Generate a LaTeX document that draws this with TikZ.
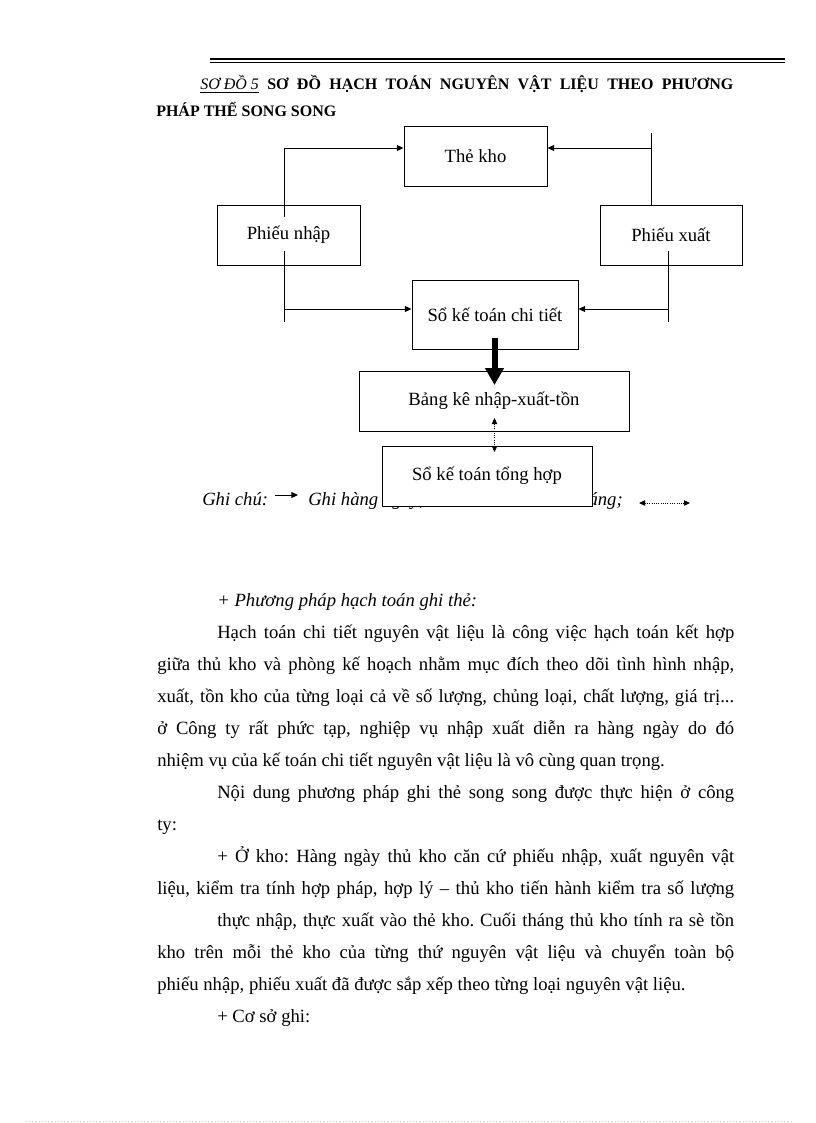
\documentclass[tikz,border=0pt]{standalone}
\usepackage{fontspec}
\setmainfont{Liberation Serif}
\usetikzlibrary{arrows.meta,positioning,backgrounds,calc}
\frenchspacing

\newcommand{\bodysize}{\fontsize{14pt}{16pt}\selectfont}
\newcommand{\boxsize}{\fontsize{14pt}{16pt}\selectfont}
\newcommand{\titlesize}{\fontsize{12pt}{14pt}\selectfont}
\newcommand{\jline}[2]{\makebox[#1][s]{#2}}

\tikzset{
  box/.style={draw, fill=white, line width=0.7pt, font=\boxsize, inner sep=2pt},
  txt/.style={anchor=base west, inner sep=0pt, font=\bodysize},
  wire/.style={line width=0.7pt},
  flow/.style={wire, ->},
  dotflow/.style={<->, densely dotted, line width=0.7pt, >={Triangle[length=4.5pt,width=4pt]}},
  bigflow/.style={-{Triangle[length=12.75pt,width=13.5pt]}, line width=4.5pt},
}

\begin{document}
\begin{tikzpicture}[x=0.75pt,y=-0.75pt,>={Triangle[length=5pt,width=4.5pt]}]
  \useasboundingbox (0,0) rectangle (816,1123);

  % header rule and title
  \draw [line width=1.5pt] (210,59) -- (785,59);
  \draw [line width=0.5pt] (210,62.5) -- (785,62.5);
  \node (title1) [txt,font=\titlesize\bfseries] at (200,90)
    {\jline{399.75pt}{\underline{\mdseries\itshape SƠ ĐỒ 5} SƠ ĐỒ HẠCH TOÁN NGUYÊN VẬT LIỆU THEO PHƯƠNG}};
  \node (title2) [txt,font=\titlesize\bfseries] at (156,117) {PHÁP THỂ SONG SONG};

  % boxes
  \node (thekho) [box,minimum width=107.25pt,minimum height=45pt] at (475.5,156) {\raisebox{-1.5pt}{Thẻ kho}};
  \node (pnhap)  [box,minimum width=107.25pt,minimum height=45pt] at (288.5,235) {\raisebox{3.5pt}{Phiếu nhập}};
  \node (pxuat)  [box,minimum width=106.5pt,minimum height=45pt] at (671,235) {\raisebox{-2pt}{Phiếu xuất}};
  \node (soct)   [box,minimum width=124.5pt,minimum height=51.75pt] at (495,314.5) {Sổ kế toán chi tiết};
  \node (bangke) [box,minimum width=202.5pt,minimum height=45pt] at (494,401) {\raisebox{-2.5pt}{Bảng kê nhập-xuất-tồn}};
  \node (sotong) [box,minimum width=157.5pt,minimum height=45pt] at (487,476) {\raisebox{-2.5pt}{Sổ kế toán tổng hợp}};

  % legend, partly hidden by the last box
  \begin{scope}[on background layer]
    \node (key)     [txt,font=\bodysize\itshape] at (202,505) {Ghi chú:};
    \node (daily)   [txt,font=\bodysize\itshape] at (308,505) {Ghi hàng ngày;};
    \node (monthly) [txt,font=\bodysize\itshape,anchor=base east] at (623,505) {Ghi cuối tháng;};
  \end{scope}
  \coordinate (key-a) at (275,495);
  \coordinate (key-b) at (298,495);
  \coordinate (key-c) at (639,503);
  \coordinate (key-d) at (690,503);
  \draw [flow] (key-a) -- (key-b);
  \draw [dotflow] (key-c) -- (key-d);

  % Phieu nhap -> The kho, So chi tiet
  \coordinate (nhap-in)  at (284,217);
  \coordinate (nhap-top) at (284,148);
  \coordinate (nhap-out) at (284,251);
  \coordinate (nhap-end) at (284,322);
  \coordinate (nhap-mid) at (284,309);
  \draw [flow] (nhap-in) -- (nhap-top) -- (nhap-top -| thekho.west);
  \draw [wire] (nhap-out) -- (nhap-end);
  \draw [flow] (nhap-mid) -- (nhap-mid -| soct.west);

  % Phieu xuat -> The kho, So chi tiet
  \coordinate (xuat-end) at (651,133);
  \coordinate (xuat-top) at (651,148);
  \coordinate (xuat-out) at (668,251);
  \coordinate (xuat-low) at (668,322);
  \coordinate (xuat-mid) at (668,309);
  \draw [wire] (xuat-end) -- (xuat-end |- pxuat.north);
  \draw [flow] (xuat-top) -- (xuat-top -| thekho.east);
  \draw [wire] (xuat-out) -- (xuat-low);
  \draw [flow] (xuat-mid) -- (xuat-mid -| soct.east);

  % down to the summary
  \coordinate (ct-in)  at (494.5,338);
  \coordinate (bk-tip) at (494.5,385);
  \coordinate (bk-low) at (494.5,418);
  \coordinate (th-in)  at (494.5,452);
  \draw [bigflow] (ct-in) -- (bk-tip);
  \draw [dotflow] (bk-low) -- (th-in);

  % text below the diagram
  \node (p1)  [txt,font=\bodysize\itshape] at (217,606) {+ Phương pháp hạch toán ghi thẻ:};
  \node (p2)  [txt] at (217,638) {\jline{387.75pt}{Hạch toán chi tiết nguyên vật liệu là công việc hạch toán kết hợp}};
  \node (p3)  [txt] at (157,670) {\jline{432.75pt}{giữa thủ kho và phòng kế hoạch nhằm mục đích theo dõi tình hình nhập,}};
  \node (p4)  [txt] at (157,702) {\jline{432.75pt}{xuất, tồn kho của từng loại cả về số lượng, chủng loại, chất lượng, giá trị...}};
  \node (p5)  [txt] at (157,734) {\jline{432.75pt}{ở Công ty rất phức tạp, nghiệp vụ nhập xuất diễn ra hàng ngày do đó}};
  \node (p6)  [txt] at (157,766) {nhiệm vụ của kế toán chi tiết nguyên vật liệu là vô cùng quan trọng.};
  \node (p7)  [txt] at (217,798) {\jline{387.75pt}{Nội dung phương pháp ghi thẻ song song được thực hiện ở công}};
  \node (p8)  [txt] at (157,830) {ty:};
  \node (p9)  [txt] at (217,862) {\jline{387.75pt}{+ Ở kho: Hàng ngày thủ kho căn cứ phiếu nhập, xuất nguyên vật}};
  \node (p10) [txt] at (157,894) {\jline{432.75pt}{liệu, kiểm tra tính hợp pháp, hợp lý – thủ kho tiến hành kiểm tra số lượng}};
  \node (p11) [txt] at (217,926) {\jline{387.75pt}{thực nhập, thực xuất vào thẻ kho. Cuối tháng thủ kho tính ra sè tồn}};
  \node (p12) [txt] at (157,958) {\jline{432.75pt}{kho trên mỗi thẻ kho của từng thứ nguyên vật liệu và chuyển toàn bộ}};
  \node (p13) [txt] at (157,990) {phiếu nhập, phiếu xuất đã được sắp xếp theo từng loại nguyên vật liệu.};
  \node (p14) [txt] at (217,1022) {+ Cơ sở ghi:};

  % faint page edge
  \draw [black!20,dotted] (26,1121) -- (792,1121);
\end{tikzpicture}
\end{document}
